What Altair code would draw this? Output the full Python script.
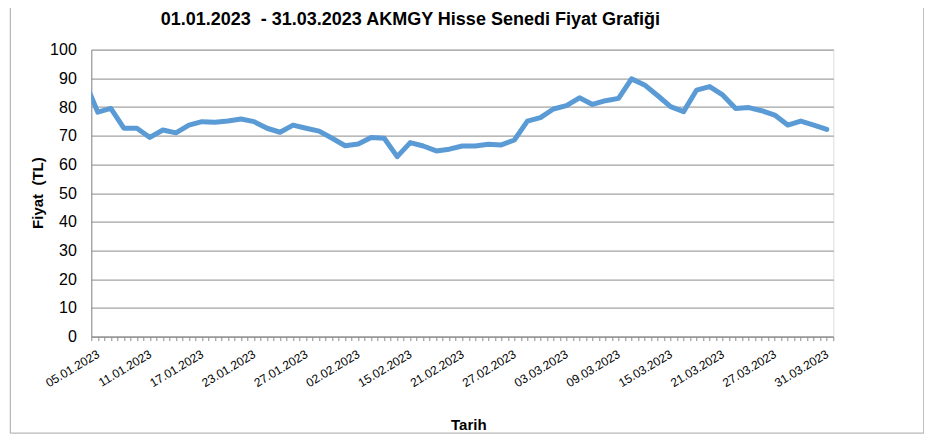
import altair as alt
import pandas as pd
import json

# Trading days (first entry is the day before the window; it is clipped at the plot edge)
dates = [
    "04.01.2023",
    "05.01.2023", "06.01.2023", "09.01.2023", "10.01.2023", "11.01.2023", "12.01.2023",
    "13.01.2023", "16.01.2023", "17.01.2023", "18.01.2023", "19.01.2023", "20.01.2023",
    "23.01.2023", "24.01.2023", "25.01.2023", "26.01.2023", "27.01.2023", "30.01.2023",
    "31.01.2023", "01.02.2023", "02.02.2023", "03.02.2023", "06.02.2023", "07.02.2023",
    "15.02.2023", "16.02.2023", "17.02.2023", "20.02.2023", "21.02.2023", "22.02.2023",
    "23.02.2023", "24.02.2023", "27.02.2023", "28.02.2023", "01.03.2023", "02.03.2023",
    "03.03.2023", "06.03.2023", "07.03.2023", "08.03.2023", "09.03.2023", "10.03.2023",
    "13.03.2023", "14.03.2023", "15.03.2023", "16.03.2023", "17.03.2023", "20.03.2023",
    "21.03.2023", "22.03.2023", "23.03.2023", "24.03.2023", "27.03.2023", "28.03.2023",
    "29.03.2023", "30.03.2023", "31.03.2023",
]

prices = [
    89.0,
    78.2, 79.5, 72.6, 72.6, 69.4, 72.0,
    71.0, 73.7, 74.9, 74.7, 75.1, 75.8,
    74.9, 72.6, 71.2, 73.7, 72.6, 71.6,
    69.1, 66.5, 67.1, 69.4, 69.1, 62.7,
    67.6, 66.4, 64.7, 65.3, 66.4, 66.4,
    67.0, 66.8, 68.5, 75.1, 76.3, 79.3,
    80.5, 83.2, 80.9, 82.2, 83.0, 89.8,
    87.7, 84.0, 80.1, 78.4, 85.9, 87.1,
    84.2, 79.5, 79.8, 78.7, 77.2, 73.7,
    75.1, 73.7, 72.2,
]

y_ticks = [0, 10, 20, 30, 40, 50, 60, 70, 80, 90, 100]

title_text = "01.01.2023\u00a0\u00a0- 31.03.2023 AKMGY Hisse Senedi Fiyat Grafiği"
y_title = "Fiyat\u00a0\u00a0(TL)"
x_title = "Tarih"

idx = [i - 1 for i in range(len(dates))]
df = pd.DataFrame({"k": idx, "Tarih": dates, "Fiyat": prices})

shown = dates[1:]
n = len(shown)
label_array = json.dumps(shown)
label_expr = (
    f"(datum.value >= 0 && datum.value % 4 === 0) ? {label_array}[datum.value] : ''"
)
x_tick_values = [-0.5 + 0.5 * i for i in range(2 * n + 1)]

W, H = 742, 287
GRAY = "#8c8c8c"
FONT = "Liberation Sans"

line = alt.Chart(df).mark_line(
    color="#5B9BD5", strokeWidth=5, strokeJoin="round", strokeCap="round", clip=True
).encode(
    x=alt.X(
        "k:Q",
        scale=alt.Scale(domain=[-0.5, n - 0.5], nice=False, zero=False),
        axis=alt.Axis(
            values=x_tick_values,
            labelExpr=label_expr,
            labelAngle=-31,
            labelAlign="right",
            labelBaseline="middle",
            labelFontSize=12,
            labelFont=FONT,
            labelColor="#000000",
            labelOverlap=False,
            labelFlush=False,
            labelPadding=12,
            tickSize=4,
            tickColor=GRAY,
            domainColor=GRAY,
            grid=False,
            title=x_title,
            titleFont=FONT,
            titleFontSize=15,
            titleFontWeight="bold",
            titleColor="#000000",
            titleX=377,
            titleY=88,
            titleAlign="center",
            titleBaseline="middle",
        ),
    ),
    y=alt.Y(
        "Fiyat:Q",
        scale=alt.Scale(domain=[0, 100], nice=False),
        axis=alt.Axis(
            values=y_ticks,
            labelFontSize=16,
            labelFont=FONT,
            labelColor="#000000",
            labelPadding=15,
            tickSize=0,
            domainColor=GRAY,
            gridColor=GRAY,
            gridWidth=1,
            title=y_title,
            titleFont=FONT,
            titleFontSize=15,
            titleFontWeight="bold",
            titleColor="#000000",
            titleAngle=-90,
            titleX=-54,
            titleY=143,
            titleAlign="center",
            titleBaseline="middle",
        ),
    ),
)

frame = alt.Chart(alt.Data(values=[{}])).mark_rect(
    fillOpacity=0, stroke="#a6a6a6", strokeWidth=1
).encode(
    x=alt.value(-81),
    x2=alt.value(832.5),
    y=alt.value(-45),
    y2=alt.value(383.5),
)

chart = alt.layer(frame, line).properties(
    width=W,
    height=H,
    title=alt.TitleParams(
        text=title_text,
        fontSize=18,
        fontWeight="bold",
        font=FONT,
        color="#000000",
        anchor="middle",
        dx=-52,
        offset=-25,
    ),
    autosize=alt.AutoSizeParams(type="none"),
    padding={"left": 83.3, "top": 41.6, "right": 90.7, "bottom": 97.4},
).configure_view(
    stroke=GRAY, strokeWidth=1
).configure(
    background="#ffffff"
)

chart.save("out.html", embed_options={"renderer": "svg", "actions": False})
